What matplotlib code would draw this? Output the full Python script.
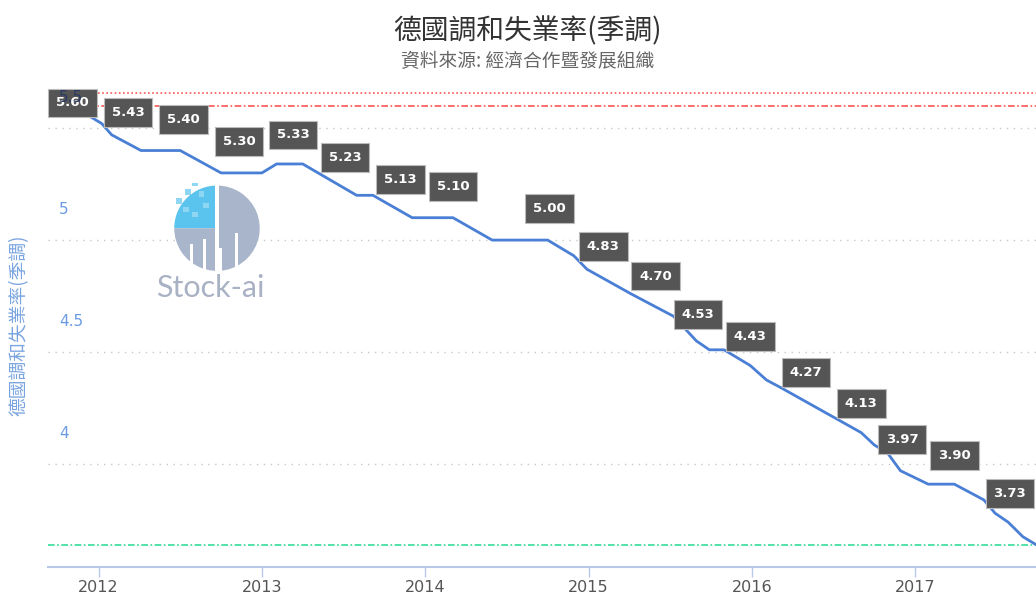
import numpy as np
import matplotlib
matplotlib.use("Agg")
from matplotlib import pyplot as plt
from matplotlib.patches import Wedge, Rectangle

plt.rcParams['font.family'] = ['Noto Sans CJK TC', 'DejaVu Sans']

# line (fractional year, rate %)
years = [2011.84, 2011.93, 2012.02, 2012.08, 2012.26, 2012.50, 2012.75, 2013.00,
         2013.09, 2013.25, 2013.58, 2013.68, 2013.92, 2014.17, 2014.41, 2014.75,
         2014.91, 2014.99, 2015.26, 2015.52, 2015.66, 2015.74, 2015.83, 2015.99,
         2016.09, 2016.18, 2016.67, 2016.75, 2016.83, 2016.91, 2017.08, 2017.24,
         2017.42, 2017.49, 2017.57, 2017.66, 2017.74]
rate = [5.60, 5.56, 5.52, 5.47, 5.40, 5.40, 5.30, 5.30,
        5.34, 5.34, 5.20, 5.20, 5.10, 5.10, 5.00, 5.00,
        4.93, 4.87, 4.76, 4.66, 4.55, 4.51, 4.51, 4.44,
        4.375, 4.34, 4.14, 4.085, 4.05, 3.97, 3.91, 3.91,
        3.84, 3.78, 3.74, 3.675, 3.64]

# data labels shown on the line
lab_years = [2011.84, 2012.18, 2012.52, 2012.86, 2013.19, 2013.51, 2013.85, 2014.17,
             2014.76, 2015.09, 2015.41, 2015.67, 2015.99, 2016.33, 2016.67, 2016.92,
             2017.24, 2017.58]
lab_vals = [5.60, 5.43, 5.40, 5.30, 5.33, 5.23, 5.13, 5.10,
            5.00, 4.83, 4.70, 4.53, 4.43, 4.27, 4.13, 3.97,
            3.90, 3.73]

yticks = [4, 4.5, 5, 5.5]
ytick_labels = ['4', '4.5', '5', '5.5']
xticks = [2012, 2013, 2014, 2015, 2016, 2017]
max_line = 5.60
top_line = 5.656
min_line = 3.64

title = '德國調和失業率(季調)'
subtitle = '資料來源: 經濟合作暨發展組織'
ylabel = '德國調和失業率(季調)'

fig = plt.figure(figsize=(10.36, 5.99), dpi=100)
ax = fig.add_axes([0.0463, 0.0534, 0.9537, 0.7996])
ax.set_xlim(2011.69, 2017.74)
ax.set_ylim(3.54, 5.679)

for v in yticks:
    ax.axhline(v, color='#c8c8c8', lw=1, ls=(0, (1, 4)), zorder=1)
ax.axhline(top_line, color='#ff5555', lw=1.2, ls=(0, (1, 1.5)), zorder=2)
ax.axhline(max_line, color='#ff5555', lw=1.2, ls=(0, (4, 1.5, 1, 1.5)), zorder=2)
ax.axhline(min_line, color='#33dd99', lw=1.2, ls=(0, (4, 1.5, 1, 1.5)), zorder=2)

ax.plot(years, rate, color='#4a7fd6', lw=2, zorder=3, solid_joinstyle='round')

for x, v in zip(lab_years, lab_vals):
    dy = 22.5 if v < 5.55 else 2
    ax.annotate('%.2f' % v, xy=(x, v), xytext=(0, dy), textcoords='offset points',
                ha='center', va='center', color='white', fontsize=9.5, fontweight='bold',
                family='DejaVu Sans', zorder=5,
                bbox=dict(boxstyle='square,pad=0.6', fc='#555555', ec='#bbbbbb', lw=0.8))

# y tick labels sit above their grid lines
for v, s in zip(yticks, ytick_labels):
    c = '#6b9be3' if v < 5.4 else '#2a3a66'
    ax.annotate(s, xy=(0, v), xycoords=('axes fraction', 'data'), xytext=(8, 22),
                textcoords='offset points', ha='left', va='center', color=c,
                fontsize=11, family='DejaVu Sans', zorder=6)

ax.set_yticks([])
ax.set_xticks(xticks)
ax.set_xticklabels([str(x) for x in xticks], fontsize=11.5, color='#555555',
                   family='DejaVu Sans')
ax.tick_params(axis='x', length=7, width=1, color='#b8c8e8', pad=2)
for s in ['top', 'right', 'left']:
    ax.spines[s].set_visible(False)
ax.spines['bottom'].set_color('#b8c8e8')
ax.spines['bottom'].set_linewidth(1.5)

fig.text(0.509, 0.948, title, ha='center', va='center', fontsize=20, color='#333333')
fig.text(0.509, 0.898, subtitle, ha='center', va='center', fontsize=13.5, color='#666666')
fig.text(0.018, 0.457, ylabel, rotation=90, ha='center', va='center',
         fontsize=13.5, color='#7aa5e0')

# watermark logo
la = fig.add_axes([0.166, 0.544, 0.0869, 0.150])
la.set_xlim(-1, 1)
la.set_ylim(-1, 1)
la.axis('off')
la.add_patch(Wedge((0, 0), 0.95, 90, 180, fc='#5bc4ee', ec='none'))
la.add_patch(Wedge((0, 0), 0.95, 180, 450, fc='#a9b5cb', ec='none'))
la.add_patch(Rectangle((-0.04, -1), 0.08, 2, fc='white', ec='none'))
for bx, top in [(-0.55, -0.35), (-0.25, -0.25), (0.1, -0.45), (0.45, -0.1)]:
    la.add_patch(Rectangle((bx - 0.05, -1), 0.06, 1 + top, fc='white', ec='none'))
for sx, sy in [(-0.9, 0.55), (-0.7, 0.75), (-0.55, 0.95), (-0.4, 0.7), (-0.75, 0.35),
               (-0.55, 0.25), (-0.3, 0.45)]:
    la.add_patch(Rectangle((sx, sy), 0.12, 0.12, fc='#8fd6f4', ec='none'))
fig.text(0.203, 0.519, 'Stock-ai', ha='center', va='center', fontsize=22,
         color='#a9b1c4', family='Lato')

fig.savefig('out.png', dpi=100)
